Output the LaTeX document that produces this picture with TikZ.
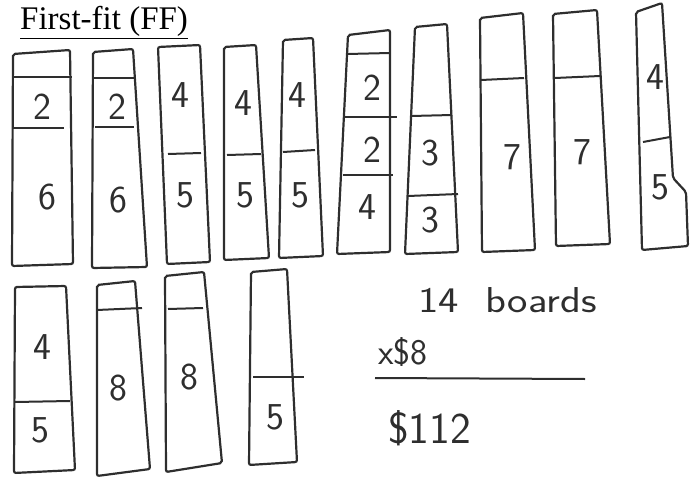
\documentclass[tikz,border=0pt]{standalone}
\usepackage{fontspec}
\usepackage{tikz}
\usetikzlibrary{positioning}
\newfontfamily\titlefont{Liberation Serif}
\definecolor{pencil}{HTML}{2E2E2E}

\begin{document}
\begin{tikzpicture}[x=1pt,y=-1pt,
  board/.style={draw=pencil,line width=2.2pt,rounded corners=2pt},
  split/.style={draw=pencil,line width=2pt},
  num/.style={text=pencil,font=\sffamily\fontsize{38}{38}\selectfont,inner sep=0pt},
  sum/.style={text=pencil,font=\sffamily\fontsize{36}{36}\selectfont,inner sep=0pt,anchor=base west}]
\useasboundingbox (0,0) rectangle (697,479);

\node[anchor=base west,inner sep=0pt,font=\titlefont\fontsize{33}{36}\selectfont] (title) at (20,30) {\underline{First-fit (FF)}};

% top row
\draw[board] (13,54) -- (70,50) -- (73,264) -- (12,266) -- cycle;
\draw[split] (13,77) -- (72,77);
\draw[split] (13,128) -- (64,128);
\node[num] (b1a) at (42,107) {2};
\node[num] (b1b) at (47,197) {6};

\draw[board] (93,52) -- (133,49) -- (147,267) -- (92,268) -- cycle;
\draw[split] (94,78) -- (135,78);
\draw[split] (95,127) -- (134,127);
\node[num] (b2a) at (117,107) {2};
\node[num] (b2b) at (118,200) {6};

\draw[board] (158,47) -- (200,45) -- (210,262) -- (167,264) -- cycle;
\draw[split] (168,154) -- (201,153);
\node[num] (b3a) at (180,95) {4};
\node[num] (b3b) at (185,195) {5};

\draw[board] (224,47) -- (256,45) -- (269,258) -- (224,260) -- cycle;
\draw[split] (227,155) -- (261,154);
\node[num] (b4a) at (243,103) {4};
\node[num] (b4b) at (245,195) {5};

\draw[board] (283,40) -- (313,38) -- (323,256) -- (279,258) -- cycle;
\draw[split] (283,152) -- (315,150);
\node[num] (b5a) at (297,95) {4};
\node[num] (b5b) at (300,195) {5};

\draw[board] (348,35) -- (390,30) -- (390,252) -- (337,254) -- cycle;
\draw[split] (347,54) -- (390,53);
\draw[split] (345,117) -- (397,117);
\draw[split] (343,175) -- (393,175);
\node[num] (b6a) at (372,88) {2};
\node[num] (b6b) at (372,150) {2};
\node[num] (b6c) at (367,207) {4};

\draw[board] (415,27) -- (447,24) -- (458,252) -- (405,254) -- cycle;
\draw[split] (411,116) -- (452,115);
\draw[split] (408,196) -- (458,194);
\node[num] (b7a) at (430,153) {3};
\node[num] (b7b) at (430,220) {3};

\draw[board] (480,18) -- (523,13) -- (535,250) -- (482,252) -- cycle;
\draw[split] (481,80) -- (524,78);
\node[num] (b8a) at (512,157) {7};

\draw[board] (553,14) -- (597,10) -- (610,244) -- (556,246) -- cycle;
\draw[split] (555,78) -- (600,76);
\node[num] (b9a) at (582,152) {7};

\draw[board] (636,12) -- (662,3) -- (673,178) -- (686,192) -- (688,246) -- (642,250) -- cycle;
\draw[split] (643,142) -- (670,137);
\node[num] (b10a) at (655,77) {4};
\node[num] (b10b) at (660,187) {5};

% bottom row
\draw[board] (15,287) -- (66,286) -- (75,470) -- (14,473) -- cycle;
\draw[split] (15,402) -- (70,401);
\node[num] (b11a) at (42,347) {4};
\node[num] (b11b) at (40,430) {5};

\draw[board] (97,285) -- (135,281) -- (150,469) -- (97,476) -- cycle;
\draw[split] (97,310) -- (142,308);
\node[num] (b12a) at (118,388) {8};

\draw[board] (165,276) -- (204,272) -- (222,463) -- (166,472) -- cycle;
\draw[split] (168,309) -- (203,308);
\node[num] (b13a) at (189,377) {8};

\draw[board] (251,272) -- (287,269) -- (297,462) -- (249,465) -- cycle;
\draw[split] (253,377) -- (304,377);
\node[num] (b14a) at (275,417) {5};

% cost
\node[sum,xscale=1.2] (boards) at (418,312) {14\ \ boards};
\node[sum] (rate) at (378,364) {x\$8};
\coordinate (rulel) at (375,378);
\coordinate (ruler) at (585,379);
\draw[split] (rulel) -- (ruler);
\node[sum,font=\sffamily\fontsize{44}{44}\selectfont] (total) at (388,443) {\$112};
\end{tikzpicture}
\end{document}
